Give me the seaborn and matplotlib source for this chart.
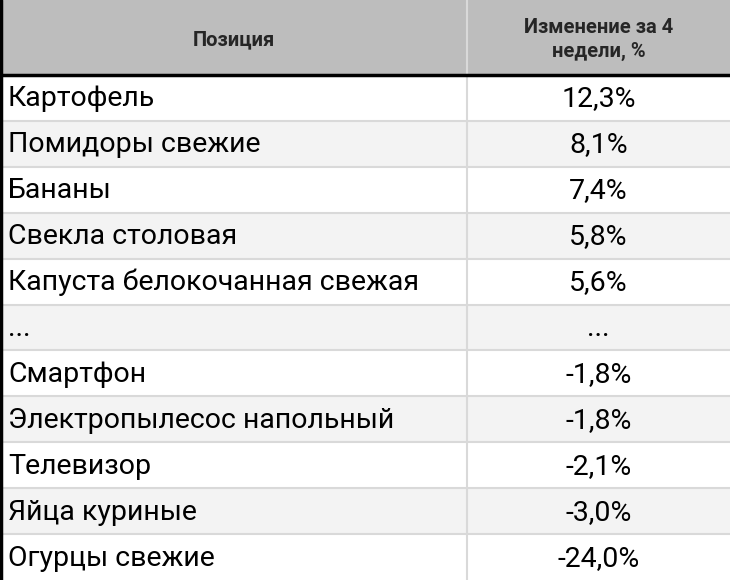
import matplotlib
matplotlib.use("Agg")
import matplotlib.pyplot as plt
import seaborn as sns
import numpy as np

sns.set_theme(style="white")
plt.rcParams['font.family'] = ['Roboto', 'DejaVu Sans']

header = ["Позиция", "Изменение за 4\nнедели, %"]
items = ["Картофель", "Помидоры свежие", "Бананы", "Свекла столовая",
         "Капуста белокочанная свежая", "...", "Смартфон",
         "Электропылесос напольный", "Телевизор", "Яйца куриные", "Огурцы свежие"]
changes = ["12,3%", "8,1%", "7,4%", "5,8%", "5,6%", "...", "-1,8%",
           "-1,8%", "-2,1%", "-3,0%", "-24,0%"]

W, H = 730, 580
HH = 75
split = 467
n = len(items)
rh = (H - HH) / n

fig = plt.figure(figsize=(7.3, 5.8), dpi=100)
ax = fig.add_axes([0, 0, 1, 1])
ax.set_xlim(0, W); ax.set_ylim(H, 0); ax.axis("off")

ax.axhspan(0, HH, color="#bdbdbd", zorder=0)
for i in range(n):
    y0 = HH + i * rh
    ax.axhspan(y0, y0 + rh, color="#ffffff" if i % 2 == 0 else "#f3f3f3", zorder=0)
    if i > 0:
        ax.plot([0, W], [y0, y0], color="#d9d9d9", lw=1.5, zorder=1)
    ax.text(8, y0 + rh / 2 + 1, items[i], va="center", ha="left", fontsize=20.5, color="black")
    ax.text((split + W) / 2, y0 + rh / 2 + 1, changes[i], va="center", ha="center", fontsize=20.5, color="black")

ax.plot([split, split], [0, H], color="#d9d9d9", lw=1.5, zorder=1)
ax.plot([0, W], [HH, HH], color="black", lw=2.5, zorder=2)
ax.plot([1, 1], [0, H], color="black", lw=2.5, zorder=2)
ax.text(split / 2, HH / 2 + 2, header[0], va="center", ha="center", fontsize=14.5, fontweight="bold")
ax.text((split + W) / 2, HH / 2 + 2, header[1], va="center", ha="center", fontsize=14.5,
        fontweight="bold", linespacing=1.35)

fig.savefig("out.png", dpi=100)
